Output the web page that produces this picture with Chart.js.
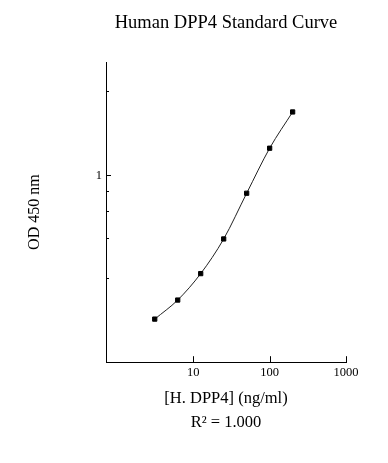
<!DOCTYPE html>
<html lang="en">
<head>
<meta charset="UTF-8">
<title>Human DPP4 Standard Curve</title>
<script src="https://cdn.jsdelivr.net/npm/chart.js@4.4.1/dist/chart.umd.min.js"></script>
<style>
  body { margin: 0; background: #fff; }
</style>
</head>
<body>
<canvas id="curve" width="388" height="463"></canvas>
<script>
// standard concentrations (ng/ml) and OD 450
const concentrations = [3.125, 6.25, 12.5, 25, 50, 100, 200];
const odValues = [0.305, 0.357, 0.444, 0.591, 0.862, 1.25, 1.686];
const xTicks = [10, 100, 1000];
const yTicks = [0.427, 0.596, 0.745, 0.879, 1, 2];
const yLabelled = [1];

// short tick marks pointing into the plot, like the original
const innerTicks = {
  id: 'innerTicks',
  afterDraw(chart) {
    const ctx = chart.ctx;
    const x = chart.scales.x, y = chart.scales.y;
    ctx.save();
    ctx.strokeStyle = '#000';
    ctx.lineWidth = 1;
    ctx.beginPath();
    x.ticks.forEach((t, i) => {
      const px = Math.round(x.getPixelForTick(i)) + 0.5;
      ctx.moveTo(px, x.top);
      ctx.lineTo(px, x.top - 6);
    });
    y.ticks.forEach((t, i) => {
      const py = Math.round(y.getPixelForTick(i)) + 0.5;
      const len = yLabelled.includes(t.value) ? 5 : 3;
      ctx.moveTo(y.right, py);
      ctx.lineTo(y.right + len, py);
    });
    ctx.stroke();
    ctx.restore();
  }
};

Chart.defaults.font.family = "'Liberation Serif', 'Times New Roman', serif";
Chart.defaults.color = '#000';

new Chart(document.getElementById('curve'), {
  type: 'line',
  data: {
    datasets: [{
      data: concentrations.map((c, i) => ({ x: c, y: odValues[i] })),
      borderColor: '#222',
      borderWidth: 1,
      cubicInterpolationMode: 'monotone',
      pointStyle: 'rect',
      pointRadius: 3,
      pointBackgroundColor: '#000',
      pointBorderColor: '#000',
      pointBorderWidth: 1
    }]
  },
  options: {
    responsive: false,
    animation: false,
    layout: { padding: { left: 0, right: 42, top: 0, bottom: 0 } },
    plugins: {
      legend: { display: false },
      tooltip: { enabled: false },
      title: {
        display: true,
        text: 'Human DPP4 Standard Curve',
        fullSize: false,
        font: { size: 18.5, weight: 'normal' },
        padding: { top: 12, bottom: 27.8 }
      },
      subtitle: {
        display: true,
        position: 'bottom',
        text: 'R² = 1.000',
        fullSize: false,
        font: { size: 16.5, weight: 'normal' },
        padding: { top: 0, bottom: 30 }
      }
    },
    scales: {
      x: {
        type: 'logarithmic',
        min: 0.7189,
        max: 1000,
        bounds: 'data',
        afterBuildTicks: s => { s.ticks = xTicks.map(v => ({ value: v })); },
        afterFit: s => { s.height = 51; },
        grid: { display: false, drawTicks: false },
        border: { color: '#000', width: 1 },
        ticks: { font: { size: 12.5 }, padding: 3, maxRotation: 0, autoSkip: false, callback: v => String(v) },
        title: { display: true, text: '[H. DPP4] (ng/ml)', font: { size: 16.5 }, padding: { top: 0, bottom: 5 } }
      },
      y: {
        type: 'logarithmic',
        min: 0.2137,
        max: 2.547,
        bounds: 'data',
        afterBuildTicks: s => { s.ticks = yTicks.map(v => ({ value: v })); },
        afterFit: s => { s.width = 106; },
        grid: { display: false, drawTicks: false },
        border: { color: '#000', width: 1 },
        ticks: { font: { size: 12.5 }, padding: 4, autoSkip: false, callback: v => yLabelled.includes(v) ? String(v) : '' },
        title: { display: true, text: 'OD 450 nm', font: { size: 16 }, padding: { top: 25.4, bottom: 0 } }
      }
    }
  },
  plugins: [innerTicks]
});
</script>
</body>
</html>
